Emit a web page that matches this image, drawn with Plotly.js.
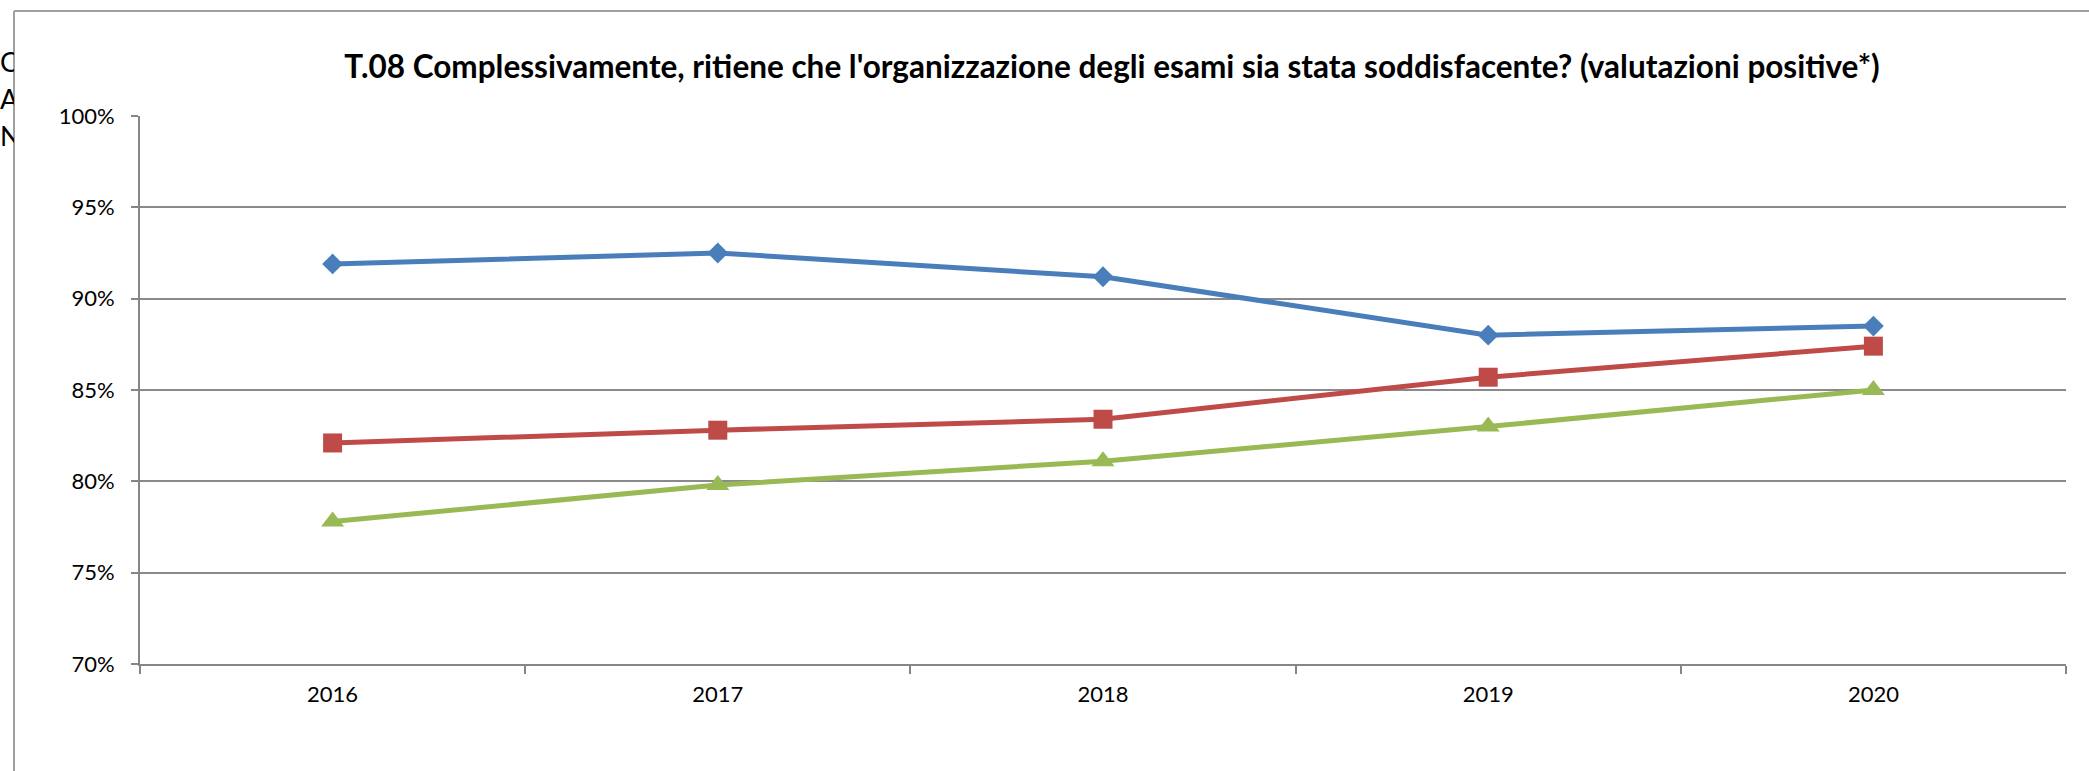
<!DOCTYPE html>
<html>
<head>
<meta charset="utf-8">
<script src="https://cdn.plot.ly/plotly-3.0.1.min.js"></script>
<style>
  html, body { margin: 0; padding: 0; background: #ffffff; }
  #wrap { position: relative; width: 2089px; height: 771px; overflow: hidden; }
  #chart { position: absolute; left: 0; top: 0; width: 2089px; height: 771px; }
  #behind { position: absolute; left: 0; top: 43px; width: 14px; overflow: hidden;
            font-family: Lato, 'Open Sans', sans-serif; font-size: 27px; line-height: 37px; color: #000; }
</style>
</head>
<body>
<div id="wrap">
  <div id="chart"></div>
  <div id="behind">C<br>A<br>N</div>
</div>
<script>
const years = ['2016', '2017', '2018', '2019', '2020'];
const seriesBlue = [0.919, 0.925, 0.912, 0.880, 0.885];
const seriesRed = [0.821, 0.828, 0.834, 0.857, 0.874];
const seriesGreen = [0.778, 0.798, 0.811, 0.830, 0.850];
const yTicks = [0.70, 0.75, 0.80, 0.85, 0.90, 0.95, 1.00];
const yTickLabels = ['70%', '75%', '80%', '85%', '90%', '95%', '100%'];
const chartTitle = "T.08 Complessivamente, ritiene che l'organizzazione degli esami sia stata soddisfacente? (valutazioni positive*)";

const W = 2089, H = 771;
const M = { l: 140, r: 23, t: 116, b: 107 };
const pw = W - M.l - M.r, ph = H - M.t - M.b;
const frameX = (14 - M.l) / pw;
const frameY = 1 + (M.t - 11) / ph;

const FONT = "Lato, 'Open Sans', sans-serif";

function mk(y, color, symbol, size) {
  return {
    x: years, y: y, type: 'scatter', mode: 'lines+markers',
    line: { color: color, width: 5 },
    marker: { color: color, symbol: symbol, size: size },
    hoverinfo: 'skip', showlegend: false
  };
}

const data = [
  mk(seriesBlue, '#4A7EBB', 'diamond', 16),
  mk(seriesRed, '#BE4B48', 'square', 19),
  mk(seriesGreen, '#98B954', 'triangle-up', 20)
];

const layout = {
  width: W, height: H,
  margin: M,
  paper_bgcolor: '#ffffff', plot_bgcolor: '#ffffff',
  font: { family: FONT, color: '#000000', size: 22 },
  title: {
    text: '<b>' + chartTitle + '</b>',
    font: { family: FONT, size: 31.5, color: '#000000' },
    xref: 'paper', x: (1112 - M.l) / pw, xanchor: 'center',
    yref: 'container', y: 1 - 67 / H, yanchor: 'middle'
  },
  xaxis: {
    type: 'category', range: [-0.5, 4.5],
    tickson: 'boundaries', ticks: 'outside', ticklen: 8, tickcolor: '#868686', tickwidth: 2,
    showline: true, linecolor: '#868686', linewidth: 2,
    showgrid: false, zeroline: false,
    ticklabelstandoff: 10,
    tickfont: { family: FONT, size: 22, color: '#000' }
  },
  yaxis: {
    range: [0.70, 1.00], tickvals: yTicks, ticktext: yTickLabels,
    ticks: 'outside', ticklen: 7, tickcolor: '#868686', tickwidth: 2,
    showline: true, linecolor: '#868686', linewidth: 2,
    showgrid: true, gridcolor: '#8a8a8a', gridwidth: 2, zeroline: false,
    ticklabelstandoff: 12,
    tickfont: { family: FONT, size: 22, color: '#000' }
  },
  shapes: [
    { type: 'line', xref: 'paper', yref: 'paper', x0: frameX, x1: frameX, y0: frameY, y1: -1,
      line: { color: '#a0a0a0', width: 2 } },
    { type: 'line', xref: 'paper', yref: 'paper', x0: frameX, x1: 2, y0: frameY, y1: frameY,
      line: { color: '#a0a0a0', width: 2 } }
  ]
};

Plotly.newPlot('chart', data, layout, { displayModeBar: false, staticPlot: true });
</script>
</body>
</html>
